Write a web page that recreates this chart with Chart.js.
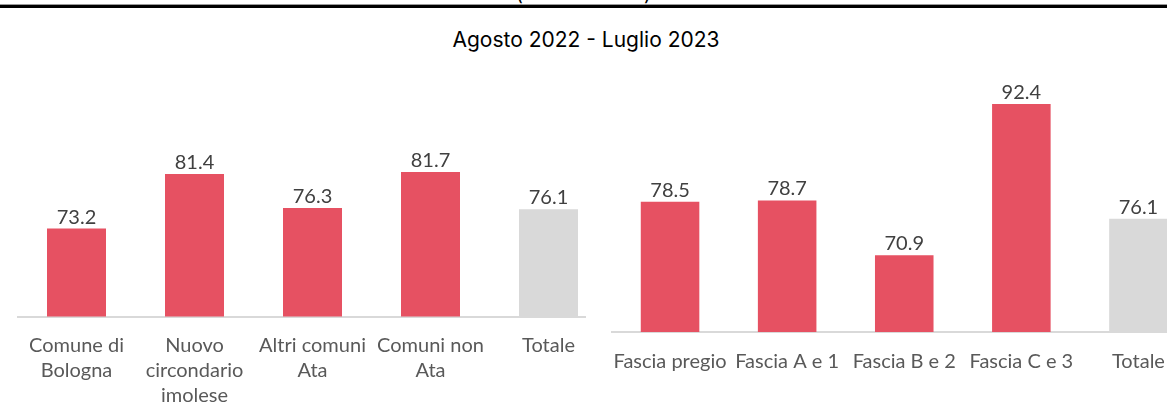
<!DOCTYPE html>
<html>
<head>
<meta charset="utf-8">
<script src="https://cdn.jsdelivr.net/npm/chart.js@4"></script>
<style>
  html, body { margin: 0; padding: 0; background: #fff; }
  body { width: 1167px; height: 403px; overflow: hidden; position: relative; }
  .topline { position: absolute; left: 0; top: 4px; width: 1167px; height: 3px; background: #000; border-top: 1px solid #9a9a9a; }
  .paren { position: absolute; top: -17px; font-family: Inter, sans-serif; font-size: 19px; color: #000; line-height: 24px; }
  #title { position: absolute; left: 0; width: 1172px; top: 27px; text-align: center;
           font-family: Inter, sans-serif; font-size: 21px; color: #000; line-height: 26px; }
  #leftWrap { position: absolute; left: 0; top: 0; width: 586px; height: 403px; overflow: hidden; }
  #rightWrap { position: absolute; left: 590px; top: 0; width: 620px; height: 403px; }
</style>
</head>
<body>
<div class="topline"></div>
<span class="paren" style="left:516px">(</span>
<span class="paren" style="left:644px">)</span>
<div id="title">Agosto 2022 - Luglio 2023</div>
<div id="leftWrap"><canvas id="leftChart" width="620" height="403"></canvas></div>
<div id="rightWrap"><canvas id="rightChart" width="620" height="403"></canvas></div>
<script>
const leftLabels = [['Comune di', 'Bologna'], ['Nuovo', 'circondario', 'imolese'], ['Altri comuni', 'Ata'], ['Comuni non', 'Ata'], 'Totale'];
const leftValues = [73.2, 81.4, 76.3, 81.7, 76.1];
const rightLabels = ['Fascia pregio', 'Fascia A e 1', 'Fascia B e 2', 'Fascia C e 3', 'Totale'];
const rightValues = [78.5, 78.7, 70.9, 92.4, 76.1];
const yMin = 60;
const yMax = 100;

const red = '#E65162';
const grey = '#D9D9D9';

const valueLabels = {
    id: 'valueLabels',
    afterDatasetsDraw(chart) {
        const ctx = chart.ctx;
        const data = chart.data.datasets[0].data;
        ctx.save();
        ctx.font = '20px Lato';
        ctx.fillStyle = '#404040';
        ctx.textAlign = 'center';
        ctx.textBaseline = 'alphabetic';
        chart.getDatasetMeta(0).data.forEach((bar, i) => {
            ctx.fillText(data[i].toFixed(1), bar.x, bar.y - 5);
        });
        ctx.restore();
    }
};

function makeChart(id, labels, values, pad, axisHeight) {
    new Chart(document.getElementById(id), {
        type: 'bar',
        data: {
            labels: labels,
            datasets: [{
                data: values,
                backgroundColor: values.map((v, i) => i === values.length - 1 ? grey : red),
                categoryPercentage: 1,
                barPercentage: 0.5
            }]
        },
        options: {
            responsive: false,
            animation: false,
            layout: { padding: pad },
            plugins: { legend: { display: false }, tooltip: { enabled: false } },
            scales: {
                x: {
                    grid: { display: false },
                    border: { display: true, color: '#D9D9D9', width: 2 },
                    ticks: {
                        color: '#595959',
                        font: { family: 'Lato', size: 20, lineHeight: 1.25 },
                        padding: 9,
                        maxRotation: 0,
                        autoSkip: false
                    },
                    afterFit(scale) { scale.height = axisHeight; }
                },
                y: {
                    display: false,
                    min: yMin,
                    max: yMax
                }
            }
        },
        plugins: [valueLabels]
    });
}

makeChart('leftChart', leftLabels, leftValues, { left: 17.5, right: 12.5, top: 50, bottom: 0 }, 86.5);
makeChart('rightChart', rightLabels, rightValues, { left: 21.5, right: 13, top: 50.5, bottom: 0 }, 71);
</script>
</body>
</html>
